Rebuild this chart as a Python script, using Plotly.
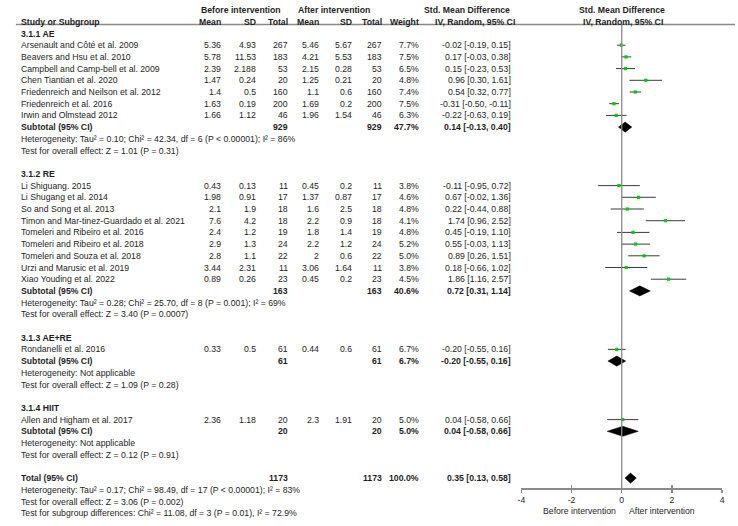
import plotly.graph_objects as go

# ---------------- data ----------------
groups = ["3.1.1 AE", "3.1.2 RE", "3.1.3 AE+RE", "3.1.4 HIIT"]

study_names = [
    ["Arsenault and Côté et al. 2009", "Beavers and Hsu et al. 2010", "Campbell and Camp-bell et al. 2009",
     "Chen Tiantian et al. 2020", "Friedenreich and Neilson et al. 2012", "Friedenreich et al. 2016",
     "Irwin and Olmstead 2012"],
    ["Li Shiguang. 2015", "Li Shugang et al. 2014", "So and Song et al. 2013",
     "Timon and Mar-tinez-Guardado et al. 2021", "Tomeleri and Ribeiro et al. 2016",
     "Tomeleri and Ribeiro et al. 2018", "Tomeleri and Souza et al. 2018", "Urzi and Marusic et al. 2019",
     "Xiao Youding et al. 2022"],
    ["Rondanelli et al. 2016"],
    ["Allen and Higham et al. 2017"],
]
before_mean = [[5.36, 5.78, 2.39, 1.47, 1.4, 1.63, 1.66],
               [0.43, 1.98, 2.1, 7.6, 2.4, 2.9, 2.8, 3.44, 0.89], [0.33], [2.36]]
before_sd = [[4.93, 11.53, 2.188, 0.24, 0.5, 0.19, 1.12],
             [0.13, 0.91, 1.9, 4.2, 1.2, 1.3, 1.1, 2.31, 0.26], [0.5], [1.18]]
before_n = [[267, 183, 53, 20, 160, 200, 46],
            [11, 17, 18, 18, 19, 24, 22, 11, 23], [61], [20]]
after_mean = [[5.46, 4.21, 2.15, 1.25, 1.1, 1.69, 1.96],
              [0.45, 1.37, 1.6, 2.2, 1.8, 2.2, 2, 3.06, 0.45], [0.44], [2.3]]
after_sd = [[5.67, 5.53, 0.28, 0.21, 0.6, 0.2, 1.54],
            [0.2, 0.87, 2.5, 0.9, 1.4, 1.2, 0.6, 1.64, 0.2], [0.6], [1.91]]
after_n = before_n
weight = [[7.7, 7.5, 6.5, 4.8, 7.4, 7.5, 6.3],
          [3.8, 4.6, 4.8, 4.1, 4.8, 5.2, 5.0, 3.8, 4.5], [6.7], [5.0]]
smd = [[-0.02, 0.17, 0.15, 0.96, 0.54, -0.31, -0.22],
       [-0.11, 0.67, 0.22, 1.74, 0.45, 0.55, 0.89, 0.18, 1.86], [-0.20], [0.04]]
ci_lo = [[-0.19, -0.03, -0.23, 0.30, 0.32, -0.50, -0.63],
         [-0.95, -0.02, -0.44, 0.96, -0.19, -0.03, 0.26, -0.66, 1.16], [-0.55], [-0.58]]
ci_hi = [[0.15, 0.38, 0.53, 1.61, 0.77, -0.11, 0.19],
         [0.72, 1.36, 0.88, 2.52, 1.10, 1.13, 1.51, 1.02, 2.57], [0.16], [0.66]]

sub_n = [929, 163, 61, 20]
sub_weight = [47.7, 40.6, 6.7, 5.0]
sub_smd = [0.14, 0.72, -0.20, 0.04]
sub_lo = [-0.13, 0.31, -0.55, -0.58]
sub_hi = [0.40, 1.14, 0.16, 0.66]
sub_het = ["Heterogeneity: Tau² = 0.10; Chi² = 42.34, df = 6 (P < 0.00001); I² = 86%",
           "Heterogeneity: Tau² = 0.28; Chi² = 25.70, df = 8 (P = 0.001); I² = 69%",
           "Heterogeneity: Not applicable",
           "Heterogeneity: Not applicable"]
sub_test = ["Test for overall effect: Z = 1.01 (P = 0.31)",
            "Test for overall effect: Z = 3.40 (P = 0.0007)",
            "Test for overall effect: Z = 1.09 (P = 0.28)",
            "Test for overall effect: Z = 0.12 (P = 0.91)"]

total_n = 1173
total_weight = 100.0
total_smd, total_lo, total_hi = 0.35, 0.13, 0.58
total_lines = ["Heterogeneity: Tau² = 0.17; Chi² = 98.49, df = 17 (P < 0.00001); I² = 83%",
               "Test for overall effect: Z = 3.06 (P = 0.002)",
               "Test for subgroup differences: Chi² = 11.08, df = 3 (P = 0.01), I² = 72.9%"]

x_ticks = [-4, -2, 0, 2, 4]
x_tick_labels = ["-4", "-2", "0", "2", "4"]
favours = ["Before intervention", "After intervention"]

# ---------------- layout constants ----------------
W, H = 738, 526
ROW0, STEP = 33.5, 11.7          # pixel of first row, row spacing
AXIS_PX = 488                    # pixel of forest axis line
FS = 8.7
FONT = "Liberation Sans, Arial, sans-serif"
TXT = "#1e1e1e"
GRAY = "#8a8a8a"

def px2row(p):
    return (p - ROW0) / STEP

COL = dict(name=15, bm=221, bsd=256, bn=289, am=320, asd=353, an=384, w=421, ci=514)

fig = go.Figure()
ann = []

def txt(xpx, row, s, anchor="left", bold=False):
    ann.append(dict(x=xpx / W, xref="paper", y=row, yref="y", text=f"<b>{s}</b>" if bold else s,
                    xanchor=anchor, yanchor="middle", showarrow=False,
                    font=dict(size=FS, family=FONT, color=TXT)))

def g(v):
    return f"{v:g}"

def ci_str(m, lo, hi):
    return f"{m:.2f} [{lo:.2f}, {hi:.2f}]"

# headers
r_h1, r_h2 = px2row(10), px2row(21.5)
txt(239, r_h1, "Before intervention", "center", True)
txt(333, r_h1, "After intervention", "center", True)
txt(467, r_h1, "Std. Mean Difference", "center", True)
txt(624, r_h1, "Std. Mean Difference", "center", True)
txt(COL["name"], r_h2, "Study or Subgroup", "left", True)
for k, lab in [("bm", "Mean"), ("bsd", "SD"), ("bn", "Total"), ("am", "Mean"), ("asd", "SD"),
               ("an", "Total"), ("w", "Weight")]:
    txt(COL[k], r_h2, lab, "right", True)
txt(476, r_h2, "IV, Random, 95% CI", "center", True)
txt(625, r_h2, "IV, Random, 95% CI", "center", True)

ci_x, ci_y, sq_x, sq_y = [], [], [], []
dia_x, dia_y = [], []
DH = 0.43

def diamond(m, lo, hi, r):
    dia_x.extend([lo, m, hi, m, lo, None])
    dia_y.extend([r, r - DH, r, r + DH, r, None])

row = 0
for gi, gname in enumerate(groups):
    txt(COL["name"], row, gname, "left", True)
    row += 1
    for j, nm in enumerate(study_names[gi]):
        txt(COL["name"], row, nm)
        txt(COL["bm"], row, g(before_mean[gi][j]), "right")
        txt(COL["bsd"], row, g(before_sd[gi][j]), "right")
        txt(COL["bn"], row, str(before_n[gi][j]), "right")
        txt(COL["am"], row, g(after_mean[gi][j]), "right")
        txt(COL["asd"], row, g(after_sd[gi][j]), "right")
        txt(COL["an"], row, str(after_n[gi][j]), "right")
        txt(COL["w"], row, f"{weight[gi][j]:.1f}%", "right")
        txt(COL["ci"], row, ci_str(smd[gi][j], ci_lo[gi][j], ci_hi[gi][j]), "right")
        ci_x.extend([ci_lo[gi][j], ci_hi[gi][j], None])
        ci_y.extend([row, row, None])
        sq_x.append(smd[gi][j])
        sq_y.append(row)
        row += 1
    txt(COL["name"], row, "Subtotal (95% CI)", "left", True)
    txt(COL["bn"], row, str(sub_n[gi]), "right", True)
    txt(COL["an"], row, str(sub_n[gi]), "right", True)
    txt(COL["w"], row, f"{sub_weight[gi]:.1f}%", "right", True)
    txt(COL["ci"], row, ci_str(sub_smd[gi], sub_lo[gi], sub_hi[gi]), "right", True)
    diamond(sub_smd[gi], sub_lo[gi], sub_hi[gi], row)
    row += 1
    txt(COL["name"], row, sub_het[gi])
    row += 1
    txt(COL["name"], row, sub_test[gi])
    row += 2

txt(COL["name"], row, "Total (95% CI)", "left", True)
txt(COL["bn"], row, str(total_n), "right", True)
txt(COL["an"], row, str(total_n), "right", True)
txt(COL["w"], row, f"{total_weight:.1f}%", "right", True)
txt(COL["ci"], row, ci_str(total_smd, total_lo, total_hi), "right", True)
diamond(total_smd, total_lo, total_hi, row)
for k, line in enumerate(total_lines):
    txt(COL["name"], row + 1 + k, line)

# forest traces
fig.add_trace(go.Scatter(x=ci_x, y=ci_y, mode="lines", line=dict(color="#3a3a3a", width=1),
                         hoverinfo="skip", showlegend=False, cliponaxis=False))
fig.add_trace(go.Scatter(x=sq_x, y=sq_y, mode="markers",
                         marker=dict(symbol="square", size=3.2, color="#00cc00", line=dict(width=0)),
                         hoverinfo="skip", showlegend=False, cliponaxis=False))
fig.add_trace(go.Scatter(x=dia_x, y=dia_y, mode="lines", fill="toself", fillcolor="black",
                         line=dict(color="black", width=0.5), hoverinfo="skip", showlegend=False,
                         cliponaxis=False))

# favours labels
fav_row = px2row(511)
ann.append(dict(x=0, xref="x", y=fav_row, yref="y", text=favours[0], xanchor="right", xshift=-4,
                yanchor="middle", showarrow=False, font=dict(size=FS, family=FONT, color=TXT)))
ann.append(dict(x=0, xref="x", y=fav_row, yref="y", text=favours[1], xanchor="left", xshift=5,
                yanchor="middle", showarrow=False, font=dict(size=FS, family=FONT, color=TXT)))

shapes = [
    # header rule
    dict(type="line", xref="paper", yref="y", x0=12 / W, x1=1, y0=px2row(24.5), y1=px2row(24.5),
         line=dict(color=GRAY, width=1.5)),
    # null line
    dict(type="line", xref="x", yref="y", x0=0, x1=0, y0=px2row(24.5), y1=px2row(AXIS_PX),
         line=dict(color=GRAY, width=1.3)),
]

x_dom = [522.3 / W, 725 / W]
axis_pos = (H - AXIS_PX) / H
fig.update_layout(
    width=W, height=H, margin=dict(l=0, r=0, t=0, b=0),
    paper_bgcolor="white", plot_bgcolor="white",
    annotations=ann, shapes=shapes, showlegend=False, hovermode=False,
    xaxis=dict(domain=x_dom, range=[-4, 4], tickvals=x_ticks, ticktext=x_tick_labels,
               showgrid=False, zeroline=False, showline=True, linecolor=GRAY, linewidth=1.5,
               ticks="outside", ticklen=3, tickwidth=1.3, tickcolor=GRAY,
               tickfont=dict(size=FS, family=FONT, color=TXT), anchor="free", position=axis_pos,
               fixedrange=True),
    xaxis2=dict(domain=x_dom, range=[-4, 4], tickvals=x_ticks, showticklabels=False,
                showgrid=False, zeroline=False, showline=False, ticks="inside", ticklen=3,
                tickwidth=1.3, tickcolor=GRAY, overlaying="x", anchor="free", position=axis_pos,
                side="bottom", fixedrange=True),
    yaxis=dict(domain=[0, 1], range=[px2row(H), px2row(0)],
               visible=False, showgrid=False, zeroline=False, fixedrange=True),
)
fig.add_trace(go.Scatter(x=[None], y=[None], xaxis="x2", yaxis="y", showlegend=False))

fig.write_html("out.html", config={"displayModeBar": False, "staticPlot": True},
               post_script="document.body.style.margin='0';document.body.style.padding='0';")
